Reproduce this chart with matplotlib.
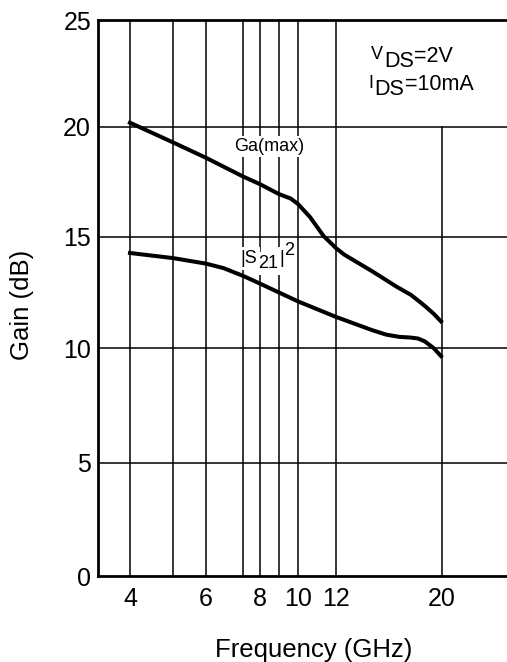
import numpy as np
import matplotlib
matplotlib.use("Agg")
import matplotlib.pyplot as plt
from matplotlib.ticker import NullLocator

plt.rcParams['font.family'] = ['Liberation Sans', 'DejaVu Sans']

# curve data (GHz, dB)
ga_freq = [4, 5, 6, 7, 8, 9, 9.6, 10, 10.6, 11.3, 12, 12.5, 14.3, 16.1, 17.2, 17.8, 18.4, 19.2, 19.9]
ga_gain = [20.2, 19.3, 18.6, 17.75, 17.4, 16.95, 16.75, 16.5, 15.9, 15.05, 14.5, 14.2, 13.45, 12.75, 12.4, 12.15, 11.9, 11.55, 11.2]

s21_freq = [4, 5, 6, 6.45, 7, 8, 9, 10, 12, 14.3, 15.3, 16.3, 17.2, 17.8, 18.4, 19.2, 19.9]
s21_gain = [14.28, 14.05, 13.8, 13.6, 13.25, 12.9, 12.5, 12.1, 11.4, 10.8, 10.6, 10.5, 10.47, 10.43, 10.3, 10.0, 9.65]

x_ticks = [4, 6, 8, 10, 12, 20]
x_grid = [4, 5, 6, 7, 8, 9, 10, 12]
y_ticks = [0, 5, 10, 15, 20, 25]

# the printed axes are not quite regular -> piecewise scales matched to the grid
scale_f = [3.39, 4, 5, 6, 7, 8, 9, 10, 12, 20, 27.3]
scale_fpos = [98, 130, 173, 206, 243, 260, 279, 298, 336, 442, 507]
log_f = np.log10(scale_f)
scale_gpos = [0, 113, 228, 339, 449, 556]


def fwd_x(f):
    f = np.clip(np.asarray(f, dtype=float), 1e-6, None)
    return np.interp(np.log10(f), log_f, scale_fpos)


def inv_x(p):
    return 10 ** np.interp(p, scale_fpos, log_f)


def fwd_y(g):
    return np.interp(g, y_ticks, scale_gpos)


def inv_y(p):
    return np.interp(p, scale_gpos, y_ticks)


def piece_text(ax, x, y, pieces, color='black', box=None, z=4):
    """pieces: (text, offset in points from baseline, fontsize) drawn one after another"""
    prev, prev_off = None, 0
    for s, off, fs in pieces:
        if prev is None:
            prev = ax.annotate(s, xy=(x, y), xytext=(0, off), textcoords='offset points',
                               fontsize=fs, ha='left', va='baseline', color=color,
                               bbox=box, zorder=z)
        else:
            prev = ax.annotate(s, xy=(1, 0), xycoords=prev, xytext=(0.6, off - prev_off),
                               textcoords='offset points', fontsize=fs, ha='left',
                               va='bottom', color=color, bbox=box, zorder=z)
        prev_off = off


W, H = 507, 662
fig = plt.figure(figsize=(W / 100, H / 100), dpi=100)
ax = fig.add_axes([98 / W, 1 - 576 / H, 1 - 98 / W, (576 - 20) / H])

ax.set_xscale('function', functions=(fwd_x, inv_x))
ax.set_yscale('function', functions=(fwd_y, inv_y))
ax.set_xlim(scale_f[0], scale_f[-1])
ax.set_ylim(0, 25)

for f in x_grid:
    ax.axvline(f, color='black', lw=1.1, zorder=1)
ax.plot([20, 20], [0, 20], color='black', lw=1.1, zorder=1)
for g in y_ticks[1:-1]:
    ax.axhline(g, color='black', lw=1.1, zorder=1)

ax.plot(ga_freq, ga_gain, color='black', lw=2.9, zorder=3, solid_joinstyle='round')
ax.plot(s21_freq, s21_gain, color='black', lw=2.9, zorder=3, solid_joinstyle='round')

ax.text(8.45, 19.1, 'Ga(max)', fontsize=13, ha='center', va='center', zorder=4,
        bbox=dict(fc='white', ec='none', pad=1.5))

s21_pieces = [('|S', 0, 13), ('21', -3.6, 13), ('|', 0, 13), ('2', 5.8, 13)]
# white patches first, then the text on top
piece_text(ax, 6.93, 13.83, s21_pieces, color=(0, 0, 0, 0),
           box=dict(fc='white', ec='none', pad=1.8), z=3.5)
piece_text(ax, 6.93, 13.83, s21_pieces)

piece_text(ax, 14.2, 22.99, [('V', 3, 13), ('DS', -3.6, 15.5), ('=2V', 0, 15.5)])
piece_text(ax, 14.0, 21.7, [('I', 2.2, 13), ('DS', -3.6, 15.5), ('=10mA', 0, 15.5)])

ax.set_xticks(x_ticks)
ax.set_xticklabels([str(v) for v in x_ticks])
ax.xaxis.set_minor_locator(NullLocator())
ax.set_yticks(y_ticks)
ax.set_yticklabels([str(v) for v in y_ticks])
ax.yaxis.set_minor_locator(NullLocator())
ax.tick_params(length=0, labelsize=18)
ax.tick_params(axis='x', pad=8)
ax.tick_params(axis='y', pad=5)

for side in ['left', 'bottom', 'top']:
    ax.spines[side].set_linewidth(2)
ax.spines['right'].set_visible(False)

fig.text(22 / W, 1 - 305 / H, 'Gain (dB)', rotation=90, fontsize=18.5, ha='center', va='center')
fig.text(314 / W, 5 / H, 'Frequency (GHz)', fontsize=18.5, ha='center', va='baseline')

fig.savefig('out.png', dpi=100)
